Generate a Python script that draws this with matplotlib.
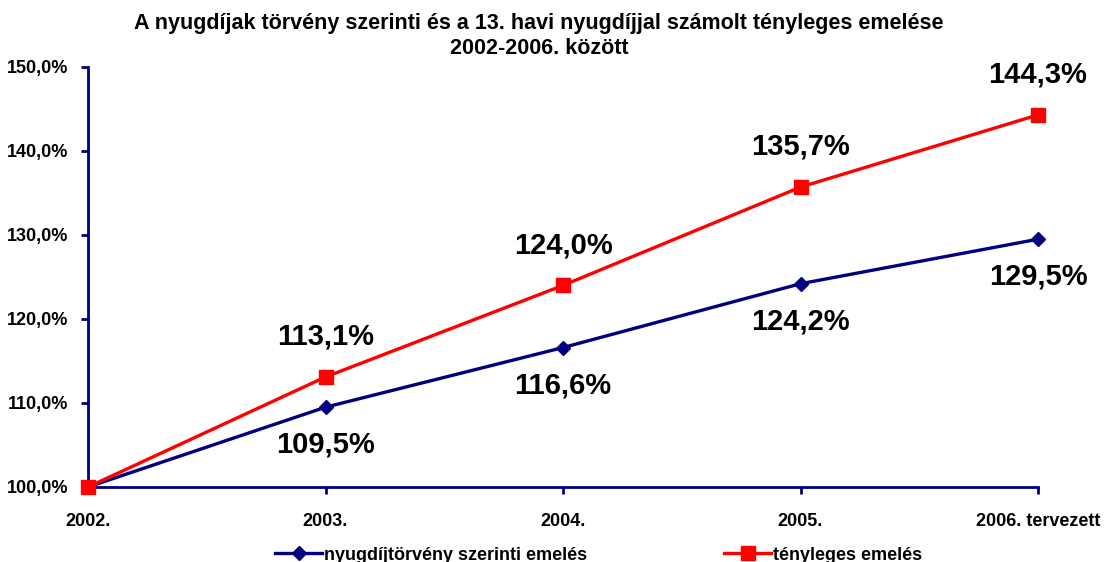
import numpy as np
import matplotlib
matplotlib.use("Agg")
import matplotlib.pyplot as plt

plt.rcParams['font.family'] = ['Liberation Sans', 'DejaVu Sans']
plt.rcParams['font.weight'] = 'bold'

# data
years = ['2002.', '2003.', '2004.', '2005.', '2006. tervezett']
torveny = [100.0, 109.5, 116.6, 124.2, 129.5]
tenyleges = [100.0, 113.1, 124.0, 135.7, 144.3]
yticks = [100, 110, 120, 130, 140, 150]

navy = '#000080'
red = '#ff0000'

fig = plt.figure(figsize=(11.09, 5.62), dpi=100)
ax = fig.add_axes([88/1109, 75/562, 950/1109, 420/562])
x = np.arange(len(years))

ax.plot(x, torveny, color=navy, lw=2.4, marker='D', ms=7, mfc=navy, mec=navy,
        clip_on=False, zorder=3, label='nyugdíjtörvény szerinti emelés')
ax.plot(x, tenyleges, color=red, lw=2.4, marker='s', ms=10, mfc=red, mec=red,
        clip_on=False, zorder=4, label='tényleges emelés')

def fmt(v):
    return f'{v:.1f}%'.replace('.', ',')

for i in range(1, len(x)):
    ax.annotate(fmt(torveny[i]), (x[i], torveny[i]), xytext=(0, -27),
                textcoords='offset points', ha='center', va='center',
                fontsize=21, fontweight='bold')
    ax.annotate(fmt(tenyleges[i]), (x[i], tenyleges[i]), xytext=(0, 29),
                textcoords='offset points', ha='center', va='center',
                fontsize=21, fontweight='bold')

ax.set_xlim(0, 4)
ax.set_ylim(100, 150)
ax.set_xticks(x)
ax.set_xticklabels(years, fontsize=13, fontweight='bold')
ax.set_yticks(yticks)
ax.set_yticklabels([fmt(v) for v in yticks], fontsize=13, fontweight='bold')
ax.tick_params(axis='both', color=navy, width=2, length=5, direction='out')
ax.tick_params(axis='x', pad=14)
ax.tick_params(axis='y', pad=9)

for s in ['top', 'right']:
    ax.spines[s].set_visible(False)
for s in ['left', 'bottom']:
    ax.spines[s].set_color(navy)
    ax.spines[s].set_linewidth(2)

fig.text(0.486, 0.936, 'A nyugdíjak törvény szerinti és a 13. havi nyugdíjjal számolt tényleges emelése\n2002-2006. között',
         ha='center', va='center', fontsize=15.5, fontweight='bold', linespacing=1.25)

fig.legend(loc='lower center', bbox_to_anchor=(0.54, -0.032), ncol=2, frameon=False,
           handlelength=2.6, handletextpad=0.1, columnspacing=7.6,
           prop={'weight': 'bold', 'size': 13})

fig.savefig('out.png', dpi=100)
